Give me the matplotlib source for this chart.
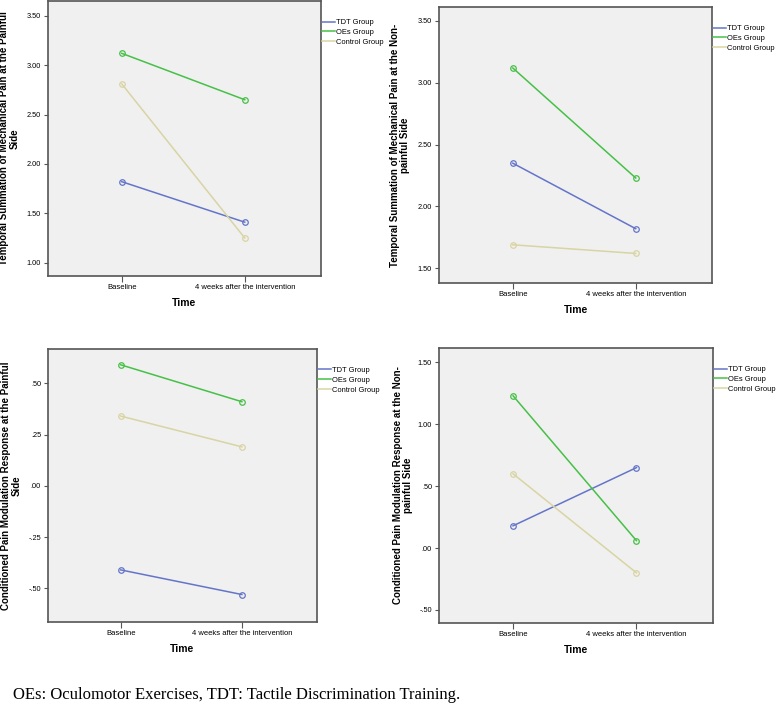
import matplotlib
matplotlib.use('Agg')
import matplotlib.pyplot as plt
from matplotlib.ticker import FuncFormatter

plt.rcParams['font.family'] = ['Liberation Sans', 'DejaVu Sans']

# Data
times = ["Baseline", "4 weeks after the intervention"]
groups = ["TDT Group", "OEs Group", "Control Group"]
colors = ["#6475c9", "#46c046", "#d9d4a3"]

tsmp_painful = [[1.82, 1.41], [3.12, 2.65], [2.81, 1.25]]
tsmp_nonpainful = [[2.35, 1.82], [3.12, 2.23], [1.69, 1.62]]
cpm_painful = [[-0.41, -0.53], [0.59, 0.41], [0.34, 0.19]]
cpm_nonpainful = [[0.18, 0.65], [1.23, 0.06], [0.60, -0.20]]

ylabels = ["Temporal Summation of Mechanical Pain at the Painful\nSide",
           "Temporal Summation of Mechanical Pain at the Non-\npainful Side",
           "Conditioned Pain Modulation Response at the Painful\nSide",
           "Conditioned Pain Modulation Response at the Non-\npainful Side"]
yticks = [[1.0, 1.5, 2.0, 2.5, 3.0, 3.5],
          [1.5, 2.0, 2.5, 3.0, 3.5],
          [-0.5, -0.25, 0.0, 0.25, 0.5],
          [-0.5, 0.0, 0.5, 1.0, 1.5]]
ylims = [(0.865, 3.65), (1.381, 3.613), (-0.664, 0.667), (-0.605, 1.616)]
caption = "OEs: Oculomotor Exercises, TDT: Tactile Discrimination Training."

W, H = 778, 710
# axes boxes in pixels: left, top, right, bottom
boxes = [(48, 1, 321, 276), (439, 7, 712, 283), (48, 349, 317, 622), (439, 348, 713, 623)]
label_x = [-0.105, -0.106, -0.099, -0.095]
datasets = [tsmp_painful, tsmp_nonpainful, cpm_painful, cpm_nonpainful]


def fmt(v, pos):
    s = "%.2f" % v
    if s.startswith("0."):
        s = s[1:]
    elif s.startswith("-0."):
        s = "-" + s[2:]
    return s


fig = plt.figure(figsize=(W / 100, H / 100), dpi=100)

for i, (box, data) in enumerate(zip(boxes, datasets)):
    l, t, r, b = box
    ax = fig.add_axes([l / W, (H - b) / H, (r - l) / W, (b - t) / H])
    ax.set_facecolor("#f0f0f0")
    x = list(range(len(times)))
    for g, vals, c in zip(groups, data, colors):
        ax.plot(x, vals, color=c, lw=1.1, marker='o', ms=4, mfc='none', mec=c, mew=0.9, label=g)
    ax.set_xlim(-0.6, 1.62)
    ax.set_ylim(*ylims[i])
    ax.set_xticks(x)
    ax.set_xticklabels(times, fontsize=5.5)
    ax.set_yticks(yticks[i])
    ax.yaxis.set_major_formatter(FuncFormatter(fmt))
    ax.tick_params(axis='y', labelsize=5.3, length=3, color="#555555", pad=2)
    ax.tick_params(axis='x', length=4, color="#555555", pad=2)
    for sp in ax.spines.values():
        sp.set_color("#555555")
        sp.set_linewidth(1.2)
    ax.set_ylabel(ylabels[i], fontsize=7, fontweight='bold', linespacing=1.0)
    ax.yaxis.set_label_coords(label_x[i], 0.5)
    ax.set_xlabel("Time", fontsize=7.5, fontweight='bold', labelpad=5)
    leg = ax.legend(loc='upper left', bbox_to_anchor=(1.003, 0.935), frameon=False, fontsize=5.4,
                    handlelength=1.7, handletextpad=0.25, borderaxespad=0, borderpad=0,
                    labelspacing=0.35)
    for h in leg.get_lines():
        h.set_marker('')
        h.set_linewidth(1.1)

fig.text(13 / W, 1 - 695 / H, caption, fontsize=12, family='Liberation Serif', va='center')

fig.savefig("out.png", dpi=100)
